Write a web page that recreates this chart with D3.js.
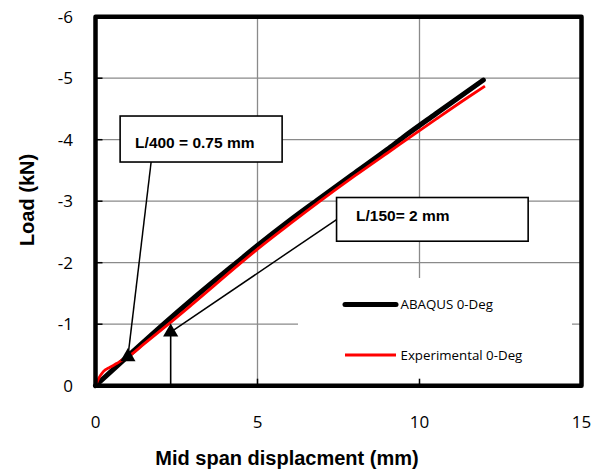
<!DOCTYPE html>
<html>
<head>
<meta charset="utf-8">
<script src="https://cdn.jsdelivr.net/npm/d3@7/dist/d3.min.js"></script>
<style>
  body { margin: 0; padding: 0; background: #fff; }
  svg { display: block; }
  .tick-label { font-family: "Open Sans", sans-serif; font-size: 17px; fill: #000; }
  .title { font-family: "Liberation Sans", Arial, sans-serif; font-weight: bold; font-size: 20px; }
  .callout { font-family: "Liberation Sans", Arial, sans-serif; font-weight: bold; font-size: 15.5px; }
  .legend { font-family: "Open Sans", sans-serif; font-size: 13.3px; }
</style>
</head>
<body>
<svg id="chart" width="599" height="472"></svg>
<script>
// ABAQUS model (load is negative = downward)
const abaqusX = [0, 1, 2.1, 3, 4.35, 5, 6, 6.85, 8, 9, 9.5, 10.5, 11.97];
const abaqusY = [0, -0.48, -1.0, -1.41, -2.0, -2.28, -2.69, -3.02, -3.46, -3.84, -4.04, -4.42, -4.97];

// experimental test
const expX = [0, 0.1, 0.24, 0.45, 0.65, 0.86, 1.0, 1.5, 2.25, 3, 4.45, 5, 6, 6.93, 8, 9, 9.6, 10.5, 11.5, 12.02];
const expY = [0, -0.12, -0.23, -0.3, -0.36, -0.43, -0.47, -0.68, -1.0, -1.33, -1.98, -2.22, -2.63, -3.0, -3.41, -3.78, -4.0, -4.33, -4.69, -4.87];

// deflection limit points
const limitX = [1.0, 2.32];
const limitY = [-0.47, -0.87];
const limitLabels = ["L/400 = 0.75 mm", "L/150= 2 mm"];

const seriesNames = ["ABAQUS 0-Deg", "Experimental 0-Deg"];
const xTicks = [0, 5, 10, 15];
const yTicks = [0, -1, -2, -3, -4, -5, -6];

const svg = d3.select('#chart');
const x = d3.scaleLinear().domain([0, 15]).range([95.5, 581.5]);
const y = d3.scaleLinear().domain([0, -6]).range([385.7, 16.7]);
const plotW = x(15) - x(0), plotH = y(0) - y(-6);

/* gridlines */
const grid = svg.append('g');
grid.selectAll('line.gx').data(xTicks.slice(1, -1)).enter().append('line')
    .attr('x1', d => x(d)).attr('x2', d => x(d))
    .attr('y1', y(-6)).attr('y2', y(0))
    .attr('stroke', '#8a8a8a').attr('stroke-width', 1.3);
grid.selectAll('line.gy').data(yTicks.slice(1, -1)).enter().append('line')
    .attr('x1', x(0)).attr('x2', x(15))
    .attr('y1', d => y(d)).attr('y2', d => y(d))
    .attr('stroke', '#8a8a8a').attr('stroke-width', 1.3);

/* legend background hides the grid */
svg.append('rect').attr('x', 298).attr('y', 278).attr('width', 274).attr('height', 105).attr('fill', '#fff');

/* curves */
const line = d3.line().x(d => x(d[0])).y(d => y(d[1])).curve(d3.curveMonotoneX);
svg.append('path').datum(d3.zip(abaqusX, abaqusY)).attr('d', line)
    .attr('fill', 'none').attr('stroke', '#000').attr('stroke-width', 5)
    .attr('stroke-linecap', 'round').attr('stroke-linejoin', 'round');
svg.append('path').datum(d3.zip(expX, expY)).attr('d', line)
    .attr('fill', 'none').attr('stroke', '#ff0000').attr('stroke-width', 2.8)
    .attr('stroke-linejoin', 'round');

/* callouts */
const boxes = [
    {x: 0.76, y: -4.385, w: 162, h: 46, tx: 15, ty: 32, lx: 31, ly: 46},
    {x: 7.44, y: -3.06, w: 191.6, h: 43.7, tx: 19.5, ty: 23.5, lx: 0, ly: 22}
];
boxes.forEach((b, i) => {
    svg.append('line')
        .attr('x1', x(b.x) + b.lx).attr('y1', y(b.y) + b.ly)
        .attr('x2', x(limitX[i])).attr('y2', y(limitY[i]))
        .attr('stroke', '#000').attr('stroke-width', 1.5);
});
// vertical drop line from the L/150 point
svg.append('line')
    .attr('x1', x(limitX[1])).attr('x2', x(limitX[1]))
    .attr('y1', y(limitY[1])).attr('y2', y(0))
    .attr('stroke', '#000').attr('stroke-width', 1.6);

boxes.forEach((b, i) => {
    svg.append('rect').attr('x', x(b.x)).attr('y', y(b.y))
        .attr('width', b.w).attr('height', b.h)
        .attr('fill', '#fff').attr('stroke', '#000').attr('stroke-width', 1.6);
    svg.append('text').attr('class', 'callout')
        .attr('x', x(b.x) + b.tx).attr('y', y(b.y) + b.ty)
        .text(limitLabels[i]);
});

svg.selectAll('path.tri').data(d3.zip(limitX, limitY)).enter().append('path')
    .attr('d', d3.symbol(d3.symbolTriangle).size(100))
    .attr('transform', d => `translate(${x(d[0])},${y(d[1])})`)
    .attr('fill', '#000');

/* frame + inner ticks */
svg.append('rect').attr('x', x(0)).attr('y', y(-6)).attr('width', plotW).attr('height', plotH)
    .attr('fill', 'none').attr('stroke', '#000').attr('stroke-width', 4.5).attr('stroke-linejoin', 'round');
svg.selectAll('line.tx').data(xTicks.slice(1, -1)).enter().append('line')
    .attr('x1', d => x(d)).attr('x2', d => x(d))
    .attr('y1', y(0)).attr('y2', y(0) - 7)
    .attr('stroke', '#000').attr('stroke-width', 1.5);
svg.selectAll('line.ty').data(yTicks.slice(1, -1)).enter().append('line')
    .attr('x1', x(0)).attr('x2', x(0) + 7)
    .attr('y1', d => y(d)).attr('y2', d => y(d))
    .attr('stroke', '#000').attr('stroke-width', 1.5);

/* tick labels */
svg.selectAll('text.xl').data(xTicks).enter().append('text')
    .attr('class', 'tick-label').attr('text-anchor', 'middle')
    .attr('x', d => x(d)).attr('y', 428)
    .text(d => d);
svg.selectAll('text.yl').data(yTicks).enter().append('text')
    .attr('class', 'tick-label').attr('text-anchor', 'end')
    .attr('x', 73).attr('y', d => y(d)).attr('dy', '0.36em')
    .text(d => d === 0 ? '0' : '-' + Math.abs(d));

/* axis titles */
svg.append('text').attr('class', 'title').attr('text-anchor', 'middle')
    .attr('x', 287).attr('y', 465).text('Mid span displacment (mm)');
svg.append('text').attr('class', 'title').attr('text-anchor', 'middle')
    .attr('transform', 'translate(34,200) rotate(-90)').text('Load (kN)');

/* legend */
const legColors = ['#000', '#ff0000'], legWidths = [5, 2.8], legY = [304.5, 355];
seriesNames.forEach((n, i) => {
    svg.append('line').attr('x1', 345).attr('x2', 396).attr('y1', legY[i]).attr('y2', legY[i])
        .attr('stroke', legColors[i]).attr('stroke-width', legWidths[i])
        .attr('stroke-linecap', i === 0 ? 'round' : 'butt');
    svg.append('text').attr('class', 'legend').attr('x', 400.5).attr('y', legY[i]).attr('dy', '0.35em')
        .text(n);
});
</script>
</body>
</html>
